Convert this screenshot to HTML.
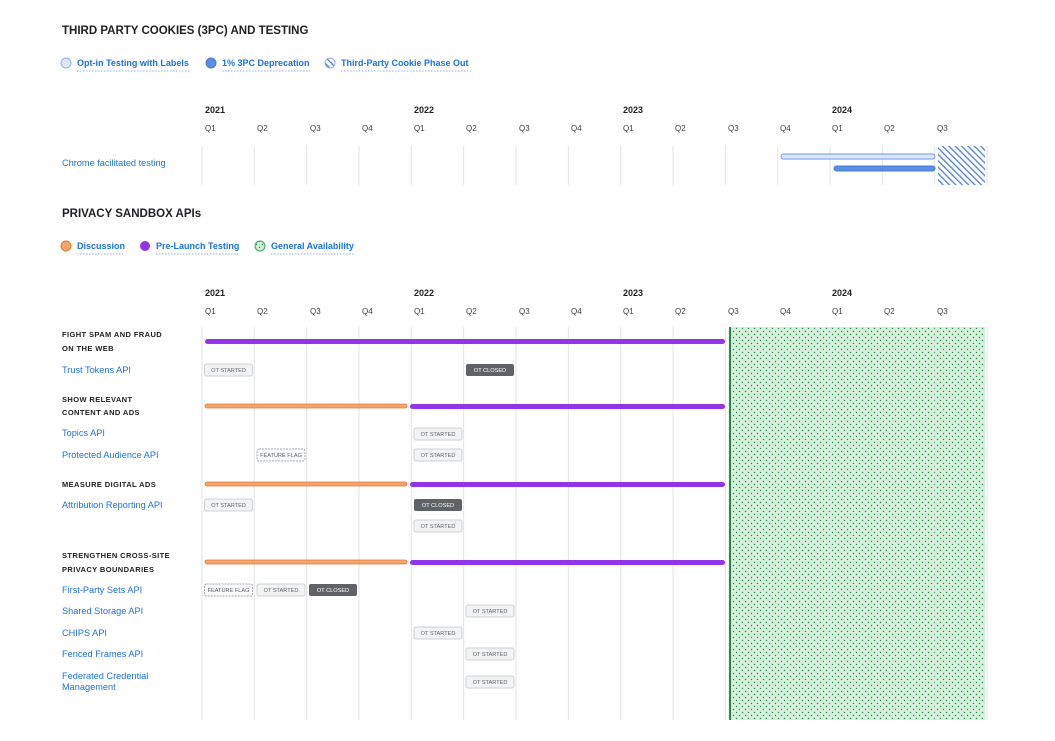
<!DOCTYPE html>
<html><head><meta charset="utf-8"><style>
html,body{margin:0;padding:0;background:#fff;}
svg{display:block;font-family:"Liberation Sans",sans-serif;}
.h{font-size:11.5px;font-weight:bold;fill:#202124;}
.s{font-size:7.5px;font-weight:bold;fill:#202124;letter-spacing:0.4px;}
.l{font-size:9.2px;fill:#1a73e8;}
.lg{font-size:9px;font-weight:bold;fill:#1a73e8;}
.y{font-size:9px;fill:#202124;font-weight:bold;}
.q{font-size:8px;fill:#3c4043;}
.c{font-size:5.6px;fill:#5f6368;text-anchor:middle;}
.cd{font-size:5.6px;fill:#fff;text-anchor:middle;}
</style></head><body>
<svg width="1055" height="741" viewBox="0 0 1055 741">
<defs>
<pattern id="hatch" width="4.5" height="4.5" patternUnits="userSpaceOnUse" patternTransform="rotate(-45)">
<rect width="4.5" height="4.5" fill="#fff"/><rect width="1.3" height="4.5" fill="#4f7fe0"/></pattern>
<pattern id="dots" width="6" height="6" patternUnits="userSpaceOnUse">
<rect width="6" height="6" fill="#d6f0dc"/><circle cx="1.5" cy="1.5" r="0.7" fill="#1e8e3e"/><circle cx="4.5" cy="4.5" r="0.7" fill="#1e8e3e"/></pattern>
</defs>
<text x="62" y="34" class="h">THIRD PARTY COOKIES (3PC) AND TESTING</text>
<circle cx="66" cy="63" r="5" fill="#dde6fa" stroke="#8fb0ef"/>
<text x="77" y="66" class="lg">Opt-in Testing with Labels</text>
<line x1="77" y1="71" x2="191" y2="71" stroke="#8fb0ef" stroke-dasharray="1.5,1.5"/>
<circle cx="211" cy="63" r="5" fill="#5b8ee6" stroke="#4a7bd8"/>
<text x="222" y="66" class="lg">1% 3PC Deprecation</text>
<line x1="222" y1="71" x2="310" y2="71" stroke="#8fb0ef" stroke-dasharray="1.5,1.5"/>
<circle cx="330" cy="63" r="5" fill="url(#hatch)" stroke="#8fb0ef"/>
<text x="341" y="66" class="lg">Third-Party Cookie Phase Out</text>
<line x1="341" y1="71" x2="471" y2="71" stroke="#8fb0ef" stroke-dasharray="1.5,1.5"/>

<text x="205" y="113" class="y">2021</text><text x="414" y="113" class="y">2022</text><text x="623" y="113" class="y">2023</text><text x="832" y="113" class="y">2024</text>
<g class="q">
<text x="205" y="131">Q1</text><text x="257" y="131">Q2</text><text x="310" y="131">Q3</text><text x="362" y="131">Q4</text>
<text x="414" y="131">Q1</text><text x="466" y="131">Q2</text><text x="519" y="131">Q3</text><text x="571" y="131">Q4</text>
<text x="623" y="131">Q1</text><text x="675" y="131">Q2</text><text x="728" y="131">Q3</text><text x="780" y="131">Q4</text>
<text x="832" y="131">Q1</text><text x="884" y="131">Q2</text><text x="937" y="131">Q3</text>
</g>
<g stroke="#e3e3e3" stroke-width="1">
<line x1="202" y1="146" x2="202" y2="185"/><line x1="254.3" y1="146" x2="254.3" y2="185"/><line x1="306.7" y1="146" x2="306.7" y2="185"/><line x1="359" y1="146" x2="359" y2="185"/><line x1="411.3" y1="146" x2="411.3" y2="185"/><line x1="463.7" y1="146" x2="463.7" y2="185"/><line x1="516" y1="146" x2="516" y2="185"/><line x1="568.3" y1="146" x2="568.3" y2="185"/><line x1="620.7" y1="146" x2="620.7" y2="185"/><line x1="673" y1="146" x2="673" y2="185"/><line x1="725.3" y1="146" x2="725.3" y2="185"/><line x1="777.7" y1="146" x2="777.7" y2="185"/><line x1="830" y1="146" x2="830" y2="185"/><line x1="882.3" y1="146" x2="882.3" y2="185"/><line x1="934.7" y1="146" x2="934.7" y2="185"/><line x1="987" y1="146" x2="987" y2="185"/>
</g>
<text x="62" y="166" class="l">Chrome facilitated testing</text>
<rect x="781" y="154" width="154" height="5" rx="2.5" fill="#dde6fa" stroke="#6f98e8"/>
<rect x="834" y="166" width="101" height="5" rx="2.5" fill="#5b8ee6" stroke="#4a7bd8"/>
<rect x="938" y="146" width="47" height="39" fill="url(#hatch)"/>

<text x="62" y="217" class="h">PRIVACY SANDBOX APIs</text>
<circle cx="66" cy="246" r="5" fill="#f4a46e" stroke="#e07b39"/>
<text x="77" y="249" class="lg">Discussion</text>
<line x1="77" y1="254" x2="123" y2="254" stroke="#8fb0ef" stroke-dasharray="1.5,1.5"/>
<circle cx="145" cy="246" r="5" fill="#9334e6"/>
<text x="156" y="249" class="lg">Pre-Launch Testing</text>
<line x1="156" y1="254" x2="240" y2="254" stroke="#8fb0ef" stroke-dasharray="1.5,1.5"/>
<circle cx="260" cy="246" r="5" fill="url(#dots)" stroke="#34a853"/>
<text x="271" y="249" class="lg">General Availability</text>
<line x1="271" y1="254" x2="355" y2="254" stroke="#8fb0ef" stroke-dasharray="1.5,1.5"/>

<g transform="translate(0,183)">
<text x="205" y="113" class="y">2021</text><text x="414" y="113" class="y">2022</text><text x="623" y="113" class="y">2023</text><text x="832" y="113" class="y">2024</text>
<g class="q">
<text x="205" y="131">Q1</text><text x="257" y="131">Q2</text><text x="310" y="131">Q3</text><text x="362" y="131">Q4</text>
<text x="414" y="131">Q1</text><text x="466" y="131">Q2</text><text x="519" y="131">Q3</text><text x="571" y="131">Q4</text>
<text x="623" y="131">Q1</text><text x="675" y="131">Q2</text><text x="728" y="131">Q3</text><text x="780" y="131">Q4</text>
<text x="832" y="131">Q1</text><text x="884" y="131">Q2</text><text x="937" y="131">Q3</text>
</g></g>
<rect x="729" y="327" width="256" height="393" fill="url(#dots)"/>
<line x1="730" y1="327" x2="730" y2="720" stroke="#1e8e3e" stroke-width="2"/>
<g stroke="#e3e3e3" stroke-width="1">
<line x1="202" y1="327" x2="202" y2="720"/><line x1="254.3" y1="327" x2="254.3" y2="720"/><line x1="306.7" y1="327" x2="306.7" y2="720"/><line x1="359" y1="327" x2="359" y2="720"/><line x1="411.3" y1="327" x2="411.3" y2="720"/><line x1="463.7" y1="327" x2="463.7" y2="720"/><line x1="516" y1="327" x2="516" y2="720"/><line x1="568.3" y1="327" x2="568.3" y2="720"/><line x1="620.7" y1="327" x2="620.7" y2="720"/><line x1="673" y1="327" x2="673" y2="720"/><line x1="725.3" y1="327" x2="725.3" y2="720"/><line x1="777.7" y1="327" x2="777.7" y2="720" stroke-opacity="0.4"/><line x1="830" y1="327" x2="830" y2="720" stroke-opacity="0.4"/><line x1="882.3" y1="327" x2="882.3" y2="720" stroke-opacity="0.4"/><line x1="934.7" y1="327" x2="934.7" y2="720" stroke-opacity="0.4"/><line x1="987" y1="327" x2="987" y2="720"/>
</g>

<text x="62" y="337" class="s">FIGHT SPAM AND FRAUD</text><text x="62" y="351" class="s">ON THE WEB</text>
<rect x="205" y="339" width="520" height="5" rx="2.5" fill="#9334e6"/>
<text x="62" y="373" class="l">Trust Tokens API</text>

<text x="62" y="402" class="s">SHOW RELEVANT</text><text x="62" y="415" class="s">CONTENT AND ADS</text>
<rect x="205" y="404" width="202" height="4" rx="2" fill="#f6a46c" stroke="#e07b39" stroke-width="0.8"/>
<rect x="410" y="404" width="315" height="5" rx="2.5" fill="#9334e6"/>
<text x="62" y="436" class="l">Topics API</text>
<text x="62" y="458" class="l">Protected Audience API</text>

<text x="62" y="487" class="s">MEASURE DIGITAL ADS</text>
<rect x="205" y="482" width="202" height="4" rx="2" fill="#f6a46c" stroke="#e07b39" stroke-width="0.8"/>
<rect x="410" y="482" width="315" height="5" rx="2.5" fill="#9334e6"/>
<text x="62" y="508" class="l">Attribution Reporting API</text>

<text x="62" y="558" class="s">STRENGTHEN CROSS-SITE</text><text x="62" y="572" class="s">PRIVACY BOUNDARIES</text>
<rect x="205" y="560" width="202" height="4" rx="2" fill="#f6a46c" stroke="#e07b39" stroke-width="0.8"/>
<rect x="410" y="560" width="315" height="5" rx="2.5" fill="#9334e6"/>
<text x="62" y="593" class="l">First-Party Sets API</text>
<text x="62" y="614" class="l">Shared Storage API</text>
<text x="62" y="636" class="l">CHIPS API</text>
<text x="62" y="657" class="l">Fenced Frames API</text>
<text x="62" y="679" class="l">Federated Credential</text><text x="62" y="690" class="l">Management</text>

<g>
<rect x="204.5" y="364" width="48" height="12" rx="2" fill="#f1f3f4" stroke="#d0d0d0"/><text x="228.5" y="372.2" class="c">OT STARTED</text>
<rect x="466" y="364" width="48" height="12" rx="2" fill="#5f6368"/><text x="490" y="372.2" class="cd">OT CLOSED</text>
<rect x="414" y="428" width="48" height="12" rx="2" fill="#f1f3f4" stroke="#d0d0d0"/><text x="438" y="436.2" class="c">OT STARTED</text>
<rect x="257" y="449" width="48" height="12" rx="2" fill="#f8f9fa" stroke="#aaa" stroke-dasharray="2,1"/><text x="281" y="457.2" class="c">FEATURE FLAG</text>
<rect x="414" y="449" width="48" height="12" rx="2" fill="#f1f3f4" stroke="#d0d0d0"/><text x="438" y="457.2" class="c">OT STARTED</text>
<rect x="204.5" y="499" width="48" height="12" rx="2" fill="#f1f3f4" stroke="#d0d0d0"/><text x="228.5" y="507.2" class="c">OT STARTED</text>
<rect x="414" y="499" width="48" height="12" rx="2" fill="#5f6368"/><text x="438" y="507.2" class="cd">OT CLOSED</text>
<rect x="414" y="520" width="48" height="12" rx="2" fill="#f1f3f4" stroke="#d0d0d0"/><text x="438" y="528.2" class="c">OT STARTED</text>
<rect x="204.5" y="584" width="48" height="12" rx="2" fill="#f8f9fa" stroke="#aaa" stroke-dasharray="2,1"/><text x="228.5" y="592.2" class="c">FEATURE FLAG</text>
<rect x="257" y="584" width="48" height="12" rx="2" fill="#f1f3f4" stroke="#d0d0d0"/><text x="281" y="592.2" class="c">OT STARTED</text>
<rect x="309" y="584" width="48" height="12" rx="2" fill="#5f6368"/><text x="333" y="592.2" class="cd">OT CLOSED</text>
<rect x="466" y="605" width="48" height="12" rx="2" fill="#f1f3f4" stroke="#d0d0d0"/><text x="490" y="613.2" class="c">OT STARTED</text>
<rect x="414" y="627" width="48" height="12" rx="2" fill="#f1f3f4" stroke="#d0d0d0"/><text x="438" y="635.2" class="c">OT STARTED</text>
<rect x="466" y="648" width="48" height="12" rx="2" fill="#f1f3f4" stroke="#d0d0d0"/><text x="490" y="656.2" class="c">OT STARTED</text>
<rect x="466" y="676" width="48" height="12" rx="2" fill="#f1f3f4" stroke="#d0d0d0"/><text x="490" y="684.2" class="c">OT STARTED</text>
</g>
</svg>
</body></html>
